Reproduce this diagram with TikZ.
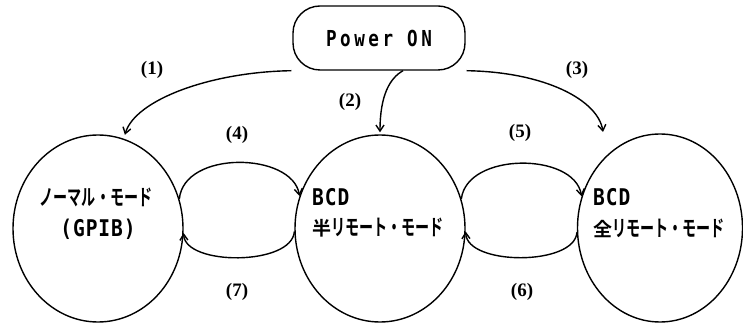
\documentclass[tikz,border=0pt]{standalone}
\usepackage{fontspec}
\usetikzlibrary{arrows.meta,shapes.geometric}
\newfontfamily\jpn[FakeStretch=0.64]{Noto Sans CJK JP Bold}
\newfontfamily\jpw{Noto Sans CJK JP Bold}
\newfontfamily\latf[FakeStretch=0.8,LetterSpace=16]{DejaVu Sans Mono Bold}
\newfontfamily\latb[FakeStretch=0.85,LetterSpace=4]{DejaVu Sans Mono Bold}
\newfontfamily\lblf{Liberation Serif Bold}
\begin{document}
\begin{tikzpicture}[x=1pt,y=-1pt,
  mode/.style={draw, ellipse, line width=1.4pt, inner sep=0pt, minimum width=170pt, minimum height=187pt},
  startbox/.style={draw, rectangle, rounded corners=27pt, line width=1.4pt, minimum width=172pt, minimum height=64pt, inner sep=0pt, font=\latf\fontsize{22}{24}\selectfont},
  conn/.style={line width=1.4pt, -{Straight Barb[length=6pt,width=8pt,line width=1.4pt]}},
  lab/.style={font=\lblf\fontsize{19}{21}\selectfont, inner sep=0pt},
  jtext/.style={font=\jpn\fontsize{22}{24}\selectfont, inner sep=0pt},
  btext/.style={font=\latb\fontsize{23}{25}\selectfont, inner sep=0pt},
]
\useasboundingbox (0,0) rectangle (743,328);
\node[startbox] (pw) at (379,38) {Power ON};
\node[mode] (nm) at (98,228.5) {};
\node[mode] (hr) at (380,228.5) {};
\node[mode, minimum width=165pt, minimum height=188pt] (fr) at (660,228) {};
% texts
\node[jtext] (nm1) at (96,197) {ノーマル・モード};
\node[btext] (nm2) at (98,229) {(GPIB)};
\node[btext, anchor=west] (hr1) at (312,197) {BCD};
\node[jtext, anchor=west] (hr2) at (312,228) {{\jpw\fontsize{19}{21}\selectfont 半}リモート・モード};
\node[btext, anchor=west] (fr1) at (593,197) {BCD};
\node[jtext, anchor=west] (fr2) at (593,228) {{\jpw\fontsize{19}{21}\selectfont 全}リモート・モード};
% labels
\node[lab] (l1) at (152,70) {(1)};
\node[lab] (l2) at (350,102) {(2)};
\node[lab] (l3) at (577,70) {(3)};
\node[lab] (l4) at (237,135) {(4)};
\node[lab] (l5) at (520,133) {(5)};
\node[lab] (l6) at (522,292) {(6)};
\node[lab] (l7) at (237,292) {(7)};
\coordinate (e3) at (603,132);
% connectors
\draw[conn, shorten >=4pt] ([xshift=-1pt]pw.south west) .. controls (210,72) and (135,100) .. (nm.74);
\draw[conn, shorten >=2pt] ([xshift=24pt]pw.south) .. controls (390,78) and (380,95) .. (hr.north);
\draw[conn] ([xshift=1pt]pw.south east) .. controls (545,72) and (598,100) .. (e3);
\draw[conn] (nm.20) .. controls (184,150) and (292,152) .. (hr.158);
\draw[conn] (hr.182) .. controls (292,266) and (185,266) .. (nm.-3);
\draw[conn] (hr.20) .. controls (467,152) and (574,152) .. (fr.158);
\draw[conn] (fr.183) .. controls (575,266) and (467,266) .. (hr.-2);
\end{tikzpicture}
\end{document}
